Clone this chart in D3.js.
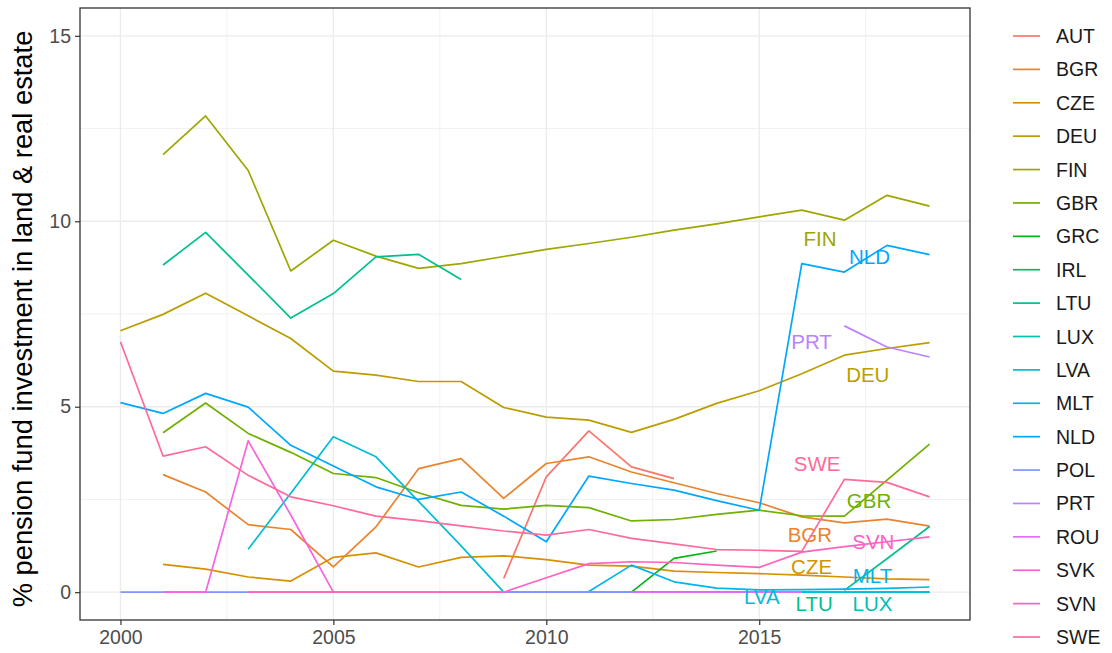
<!DOCTYPE html>
<html>
<head>
<meta charset="utf-8">
<script src="https://cdn.jsdelivr.net/npm/d3@7"></script>
<style>
  body { margin: 0; background: #ffffff; }
  svg text { font-family: "Liberation Sans", Arial, Helvetica, sans-serif; }
</style>
</head>
<body>
<svg id="chart" width="1112" height="653"></svg>
<script>
// ---- data: share of pension fund assets invested in land & real estate (%) ----
const years = [2000, 2001, 2002, 2003, 2004, 2005, 2006, 2007, 2008, 2009,
               2010, 2011, 2012, 2013, 2014, 2015, 2016, 2017, 2018, 2019];

const countries = ["AUT", "BGR", "CZE", "DEU", "FIN", "GBR", "GRC", "IRL", "LTU", "LUX",
                   "LVA", "MLT", "NLD", "POL", "PRT", "ROU", "SVK", "SVN", "SWE"];

// one value per year, null where no observation exists
const AUT = [null, null, null, null, null, null, null, null, null, 0.37, 3.11, 4.35, 3.38, 3.06, null, null, null, null, null, null];
const BGR = [null, 3.17, 2.70, 1.82, 1.69, 0.68, 1.76, 3.33, 3.60, 2.53, 3.47, 3.65, 3.24, 2.95, 2.66, 2.41, 2.03, 1.87, 1.97, 1.78];
const CZE = [null, 0.75, 0.62, 0.41, 0.30, 0.94, 1.06, 0.68, 0.94, 0.98, 0.88, 0.73, 0.70, 0.57, 0.53, 0.50, 0.46, 0.41, 0.36, 0.34];
const DEU = [7.05, 7.49, 8.06, 7.45, 6.84, 5.96, 5.85, 5.68, 5.68, 4.98, 4.72, 4.64, 4.31, 4.66, 5.09, 5.43, 5.89, 6.39, 6.57, 6.73];
const FIN = [null, 11.80, 12.84, 11.37, 8.66, 9.49, 9.06, 8.73, 8.86, 9.05, 9.24, 9.40, 9.57, 9.76, 9.93, 10.12, 10.30, 10.03, 10.70, 10.41];
const GBR = [null, 4.30, 5.10, 4.28, 3.77, 3.20, 3.09, 2.68, 2.34, 2.24, 2.34, 2.28, 1.92, 1.96, 2.10, 2.21, 2.06, 2.05, 3.02, 3.99];
const GRC = [null, null, null, null, null, null, null, null, null, null, null, null, 0.00, 0.91, 1.11, null, null, null, null, null];
const IRL = [null, null, null, null, null, null, null, null, null, null, null, null, 0.00, 0.00, 0.00, 0.00, null, null, null, null];
const LTU = [null, 8.82, 9.70, 8.55, 7.39, 8.05, 9.04, 9.11, 8.43, null, null, null, null, null, null, null, null, 0.05, 0.90, 1.77];
const LUX = [null, null, null, null, null, null, null, null, null, null, null, null, null, null, 0.00, 0.00, 0.00, 0.00, 0.00, 0.00];
const LVA = [null, null, null, 1.16, 2.67, 4.19, 3.65, 2.45, 1.25, 0.00, 0.00, 0.00, 0.00, 0.00, 0.00, 0.00, 0.00, 0.00, 0.00, 0.00];
const MLT = [null, null, null, null, null, null, null, null, null, null, null, 0.02, 0.73, 0.28, 0.11, 0.06, 0.07, 0.08, 0.10, 0.14];
const NLD = [5.11, 4.82, 5.36, 4.99, 3.96, 3.40, 2.84, 2.50, 2.70, 2.05, 1.36, 3.13, 2.93, 2.75, 2.47, 2.21, 8.86, 8.63, 9.35, 9.10];
const POL = [0.00, 0.00, 0.00, 0.00, 0.00, 0.00, 0.00, 0.00, 0.00, 0.00, 0.00, 0.00, 0.00, null, null, null, null, null, null, null];
const PRT = [null, null, null, null, null, null, null, null, null, null, null, null, null, null, null, null, null, 7.18, 6.61, 6.34];
const ROU = [null, null, null, null, null, null, null, null, null, null, null, null, 0.00, 0.00, 0.00, 0.00, 0.00, null, null, null];
const SVK = [null, 0.00, 0.00, 4.08, 2.08, 0.00, null, null, null, null, null, null, null, null, null, null, null, null, null, null];
const SVN = [null, null, null, 0.00, 0.00, 0.00, 0.00, 0.00, 0.00, 0.00, 0.39, 0.77, 0.82, 0.80, 0.73, 0.67, 1.08, 1.23, 1.36, 1.49];
const SWE = [6.75, 3.67, 3.92, 3.15, 2.57, 2.33, 2.05, 1.93, 1.79, 1.65, 1.54, 1.69, 1.45, 1.30, 1.15, 1.13, 1.10, 3.04, 2.96, 2.57];

// direct labels (year, value at which each name is centred)
const labelNames  = ["FIN", "NLD", "PRT", "DEU", "SWE", "GBR", "BGR", "SVN", "CZE", "MLT", "LVA", "LTU", "LUX"];
const labelYears  = [2016.43, 2017.59, 2016.23, 2017.55, 2016.36, 2017.58, 2016.19, 2017.68, 2016.23, 2017.66, 2015.06, 2016.29, 2017.66];
const labelValues = [9.54, 9.05, 6.75, 5.86, 3.47, 2.46, 1.56, 1.36, 0.69, 0.46, -0.12, -0.30, -0.30];

const xTicks = [2000, 2005, 2010, 2015];
const yTicks = [0, 5, 10, 15];
const yLimits = [0, 15];

const seriesByCountry = { AUT, BGR, CZE, DEU, FIN, GBR, GRC, IRL, LTU, LUX,
                          LVA, MLT, NLD, POL, PRT, ROU, SVK, SVN, SWE };

// ---- colours: evenly spaced hues in polar CIE-Luv (c = 100, l = 65) ----
function hclLuv(h, c, l) {
  const Wu = 0.1978398, Wv = 0.4683363;
  const hr = h * Math.PI / 180;
  const U = c * Math.cos(hr), V = c * Math.sin(hr);
  const Y = l > 7.999592 ? Math.pow((l + 16) / 116, 3) : l / 903.3;
  const u = U / (13 * l) + Wu, v = V / (13 * l) + Wv;
  const X = 9 * Y * u / (4 * v);
  const Z = -X / 3 - 5 * Y + 3 * Y / v;
  const gam = t => t > 0.00304 ? 1.055 * Math.pow(t, 1 / 2.4) - 0.055 : 12.92 * t;
  const clip = t => Math.max(0, Math.min(1, t));
  const r = clip(gam( 3.240479 * X - 1.537150 * Y - 0.498535 * Z));
  const g = clip(gam(-0.969256 * X + 1.875992 * Y + 0.041556 * Z));
  const b = clip(gam( 0.055648 * X - 0.204043 * Y + 1.057311 * Z));
  return d3.rgb(r * 255, g * 255, b * 255).formatHex();
}
const n = countries.length;
const palette = countries.map((_, i) => hclLuv(15 + 360 * i / n, 100, 65));
const color = d3.scaleOrdinal().domain(countries).range(palette);

// ---- layout ----
const svg = d3.select("#chart");
const panel = { left: 80, right: 970, top: 8, bottom: 620 };

const xPad = 0.05 * (d3.max(years) - d3.min(years));
const yPad = 0.05 * (yLimits[1] - yLimits[0]);
const x = d3.scaleLinear()
  .domain([d3.min(years) - xPad, d3.max(years) + xPad])
  .range([panel.left, panel.right]);
const y = d3.scaleLinear()
  .domain([yLimits[0] - yPad, yLimits[1] + yPad])
  .range([panel.bottom, panel.top]);

svg.append("rect").attr("width", 1112).attr("height", 653).attr("fill", "#ffffff");

// grid
const grid = svg.append("g");
const xMinor = xTicks.map(t => t + 2.5).filter(t => t < x.domain()[1]);
const yMinor = yTicks.map(t => t + 2.5).filter(t => t < y.domain()[1]);
grid.selectAll(".xminor").data(xMinor).join("line")
  .attr("x1", d => x(d)).attr("x2", d => x(d))
  .attr("y1", panel.top).attr("y2", panel.bottom)
  .attr("stroke", "#f1f1f1").attr("stroke-width", 1);
grid.selectAll(".yminor").data(yMinor).join("line")
  .attr("x1", panel.left).attr("x2", panel.right)
  .attr("y1", d => y(d)).attr("y2", d => y(d))
  .attr("stroke", "#f1f1f1").attr("stroke-width", 1);
grid.selectAll(".xmajor").data(xTicks).join("line")
  .attr("x1", d => x(d)).attr("x2", d => x(d))
  .attr("y1", panel.top).attr("y2", panel.bottom)
  .attr("stroke", "#ebebeb").attr("stroke-width", 1.3);
grid.selectAll(".ymajor").data(yTicks).join("line")
  .attr("x1", panel.left).attr("x2", panel.right)
  .attr("y1", d => y(d)).attr("y2", d => y(d))
  .attr("stroke", "#ebebeb").attr("stroke-width", 1.3);

// series lines
const line = d3.line()
  .defined(d => d.value !== null)
  .x(d => x(d.year))
  .y(d => y(d.value));

const lines = svg.append("g").attr("fill", "none");
countries.forEach(cc => {
  const pts = years.map((yr, i) => ({ year: yr, value: seriesByCountry[cc][i] }));
  lines.append("path")
    .datum(pts)
    .attr("d", line)
    .attr("stroke", color(cc))
    .attr("stroke-width", 1.7)
    .attr("stroke-linejoin", "round");
});

// direct labels
svg.append("g").selectAll("text")
  .data(labelNames.map((nm, i) => ({ nm, yr: labelYears[i], v: labelValues[i] })))
  .join("text")
  .attr("x", d => x(d.yr))
  .attr("y", d => y(d.v))
  .attr("text-anchor", "middle")
  .attr("dominant-baseline", "central")
  .attr("font-size", 20.5)
  .attr("fill", d => color(d.nm))
  .text(d => d.nm);

// panel border
svg.append("rect")
  .attr("x", panel.left).attr("y", panel.top)
  .attr("width", panel.right - panel.left).attr("height", panel.bottom - panel.top)
  .attr("fill", "none").attr("stroke", "#333333").attr("stroke-width", 1.3);

// axes
const xAxis = svg.append("g")
  .attr("transform", `translate(0,${panel.bottom})`)
  .call(d3.axisBottom(x).tickValues(xTicks).tickFormat(d3.format("d")).tickSize(5).tickPadding(5));
const yAxis = svg.append("g")
  .attr("transform", `translate(${panel.left},0)`)
  .call(d3.axisLeft(y).tickValues(yTicks).tickSize(5).tickPadding(4));
[xAxis, yAxis].forEach(a => {
  a.select(".domain").remove();
  a.selectAll(".tick line").attr("stroke", "#333333").attr("stroke-width", 1.2);
  a.selectAll(".tick text").attr("fill", "#4d4d4d").attr("font-size", 19.5)
    .attr("font-family", "'Liberation Sans', Arial, sans-serif");
});

// y-axis title
svg.append("text")
  .attr("transform", `translate(22,${(panel.top + panel.bottom) / 2 + 5}) rotate(-90)`)
  .attr("text-anchor", "middle")
  .attr("dominant-baseline", "central")
  .attr("font-size", 27.3)
  .attr("fill", "#000000")
  .text("% pension fund investment in land & real estate");

// legend
const legendY = d3.scalePoint().domain(countries).range([36, 637]);
const legend = svg.append("g");
legend.selectAll("line").data(countries).join("line")
  .attr("x1", 1013).attr("x2", 1040)
  .attr("y1", d => legendY(d)).attr("y2", d => legendY(d))
  .attr("stroke", d => color(d)).attr("stroke-width", 1.7);
legend.selectAll("text").data(countries).join("text")
  .attr("x", 1056)
  .attr("y", d => legendY(d))
  .attr("dominant-baseline", "central")
  .attr("font-size", 19.5)
  .attr("fill", "#1a1a1a")
  .text(d => d);
</script>
</body>
</html>
